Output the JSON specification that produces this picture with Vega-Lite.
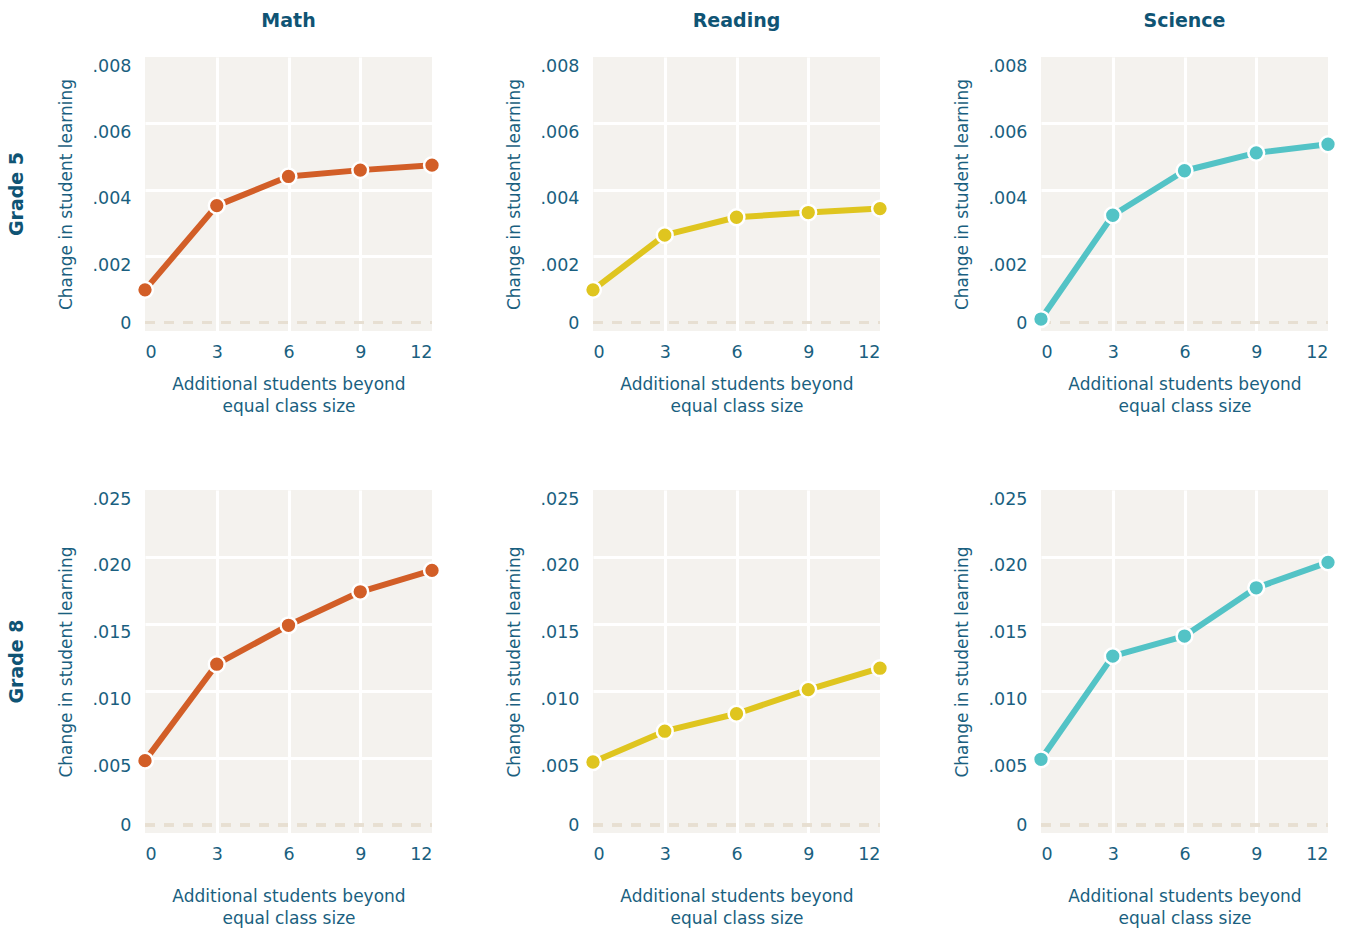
{
  "$schema": "https://vega.github.io/schema/vega-lite/v6.json",
  "background": "white",
  "padding": {"left": 8, "top": 12, "right": 5, "bottom": 5},
  "datasets": {
    "learning": [
      {"grade": "Grade 5", "subject": "Math", "students": 0, "change": 0.00098},
      {"grade": "Grade 5", "subject": "Math", "students": 3, "change": 0.00352},
      {"grade": "Grade 5", "subject": "Math", "students": 6, "change": 0.0044},
      {"grade": "Grade 5", "subject": "Math", "students": 9, "change": 0.00459},
      {"grade": "Grade 5", "subject": "Math", "students": 12, "change": 0.00474},
      {"grade": "Grade 5", "subject": "Reading", "students": 0, "change": 0.00098},
      {"grade": "Grade 5", "subject": "Reading", "students": 3, "change": 0.00263},
      {"grade": "Grade 5", "subject": "Reading", "students": 6, "change": 0.00317},
      {"grade": "Grade 5", "subject": "Reading", "students": 9, "change": 0.00331},
      {"grade": "Grade 5", "subject": "Reading", "students": 12, "change": 0.00343},
      {"grade": "Grade 5", "subject": "Science", "students": 0, "change": 0.0001},
      {"grade": "Grade 5", "subject": "Science", "students": 3, "change": 0.00323},
      {"grade": "Grade 5", "subject": "Science", "students": 6, "change": 0.00457},
      {"grade": "Grade 5", "subject": "Science", "students": 9, "change": 0.00511},
      {"grade": "Grade 5", "subject": "Science", "students": 12, "change": 0.00537},
      {"grade": "Grade 8", "subject": "Math", "students": 0, "change": 0.0048},
      {"grade": "Grade 8", "subject": "Math", "students": 3, "change": 0.012},
      {"grade": "Grade 8", "subject": "Math", "students": 6, "change": 0.0149},
      {"grade": "Grade 8", "subject": "Math", "students": 9, "change": 0.0174},
      {"grade": "Grade 8", "subject": "Math", "students": 12, "change": 0.019},
      {"grade": "Grade 8", "subject": "Reading", "students": 0, "change": 0.0047},
      {"grade": "Grade 8", "subject": "Reading", "students": 3, "change": 0.007},
      {"grade": "Grade 8", "subject": "Reading", "students": 6, "change": 0.0083},
      {"grade": "Grade 8", "subject": "Reading", "students": 9, "change": 0.0101},
      {"grade": "Grade 8", "subject": "Reading", "students": 12, "change": 0.0117},
      {"grade": "Grade 8", "subject": "Science", "students": 0, "change": 0.0049},
      {"grade": "Grade 8", "subject": "Science", "students": 3, "change": 0.0126},
      {"grade": "Grade 8", "subject": "Science", "students": 6, "change": 0.0141},
      {"grade": "Grade 8", "subject": "Science", "students": 9, "change": 0.0177},
      {"grade": "Grade 8", "subject": "Science", "students": 12, "change": 0.0196}
    ]
  },
  "data": {"name": "learning"},
  "spacing": 75,
  "vconcat": [
    {
      "transform": [{"filter": "datum.grade === 'Grade 5'"}],
      "facet": {
        "row": {"field": "grade", "type": "nominal", "header": {"title": null, "labelAngle": -90, "labelOrient": "left", "labelPadding": 21, "labelFontSize": 19, "labelFontWeight": "bold", "labelColor": "#0f5474", "labelFont": "DejaVu Sans"}},
        "column": {"field": "subject", "type": "nominal", "sort": ["Math", "Reading", "Science"], "header": {"title": null, "labelOrient": "top", "labelPadding": 26, "labelFontSize": 19, "labelFontWeight": "bold", "labelColor": "#0f5474", "labelFont": "DejaVu Sans"}}
      },
      "spacing": {"column": 60},
      "resolve": {"axis": {"y": "independent", "x": "independent"}},
      "spec": {
        "width": 287,
        "height": 274,
        "encoding": {
          "x": {"field": "students", "type": "quantitative", "scale": {"domain": [0, 12], "nice": false, "zero": false},
            "axis": {"values": [0, 3, 6, 9, 12], "title": ["Additional students beyond", "equal class size"],
              "gridColor": {"condition": {"test": "datum.value === 0 || datum.value === 12", "value": "transparent"}, "value": "white"}}},
          "y": {"field": "change", "type": "quantitative", "scale": {"domain": [-0.00026, 0.008], "nice": false, "zero": false},
            "axis": {"values": [0, 0.002, 0.004, 0.006, 0.008], "title": "Change in student learning",
              "labelExpr": "datum.value === 0 ? '0' : replace(format(datum.value, '.3f'), '0.', '.')",
              "labelOffset": {"condition": {"test": "datum.value === 0", "value": 1}, "value": 9},
              "gridColor": {"condition": {"test": "datum.value === 0 || datum.value >= 0.008", "value": "transparent"}, "value": "white"}}},
          "color": {"field": "subject", "type": "nominal", "scale": {"domain": ["Math", "Reading", "Science"], "range": ["#d25e27", "#dfc51f", "#53c3c6"]}, "legend": null}
        },
        "layer": [
          {"mark": {"type": "rule", "strokeDash": [10, 9], "strokeWidth": 3, "color": "#e7dfd2"}, "encoding": {"y": {"datum": 0}, "color": {"value": "#e7dfd2"}, "x": {"value": 0}, "x2": {"value": 287}}},
          {"mark": {"type": "line", "strokeWidth": 6, "strokeCap": "round", "strokeJoin": "round"}},
          {"mark": {"type": "point", "filled": true, "size": 250, "stroke": "white", "strokeWidth": 2.5, "opacity": 1}}
        ]
      }
    },
    {
      "transform": [{"filter": "datum.grade === 'Grade 8'"}],
      "facet": {
        "row": {"field": "grade", "type": "nominal", "header": {"title": null, "labelAngle": -90, "labelOrient": "left", "labelPadding": 21, "labelFontSize": 19, "labelFontWeight": "bold", "labelColor": "#0f5474", "labelFont": "DejaVu Sans"}},
        "column": {"field": "subject", "type": "nominal", "sort": ["Math", "Reading", "Science"], "header": {"title": null, "labels": false}}
      },
      "spacing": {"column": 60},
      "resolve": {"axis": {"y": "independent", "x": "independent"}},
      "spec": {
        "width": 287,
        "height": 343,
        "encoding": {
          "x": {"field": "students", "type": "quantitative", "scale": {"domain": [0, 12], "nice": false, "zero": false},
            "axis": {"values": [0, 3, 6, 9, 12], "title": ["Additional students beyond", "equal class size"], "titlePadding": 26,
              "gridColor": {"condition": {"test": "datum.value === 0 || datum.value === 12", "value": "transparent"}, "value": "white"}}},
          "y": {"field": "change", "type": "quantitative", "scale": {"domain": [-0.0006, 0.025], "nice": false, "zero": false},
            "axis": {"values": [0, 0.005, 0.01, 0.015, 0.02, 0.025], "title": "Change in student learning",
              "labelExpr": "datum.value === 0 ? '0' : replace(format(datum.value, '.3f'), '0.', '.')",
              "labelOffset": {"condition": {"test": "datum.value === 0", "value": 1}, "value": 9},
              "gridColor": {"condition": {"test": "datum.value === 0 || datum.value >= 0.025", "value": "transparent"}, "value": "white"}}},
          "color": {"field": "subject", "type": "nominal", "scale": {"domain": ["Math", "Reading", "Science"], "range": ["#d25e27", "#dfc51f", "#53c3c6"]}, "legend": null}
        },
        "layer": [
          {"mark": {"type": "rule", "strokeDash": [10, 9], "strokeWidth": 3, "color": "#e7dfd2"}, "encoding": {"y": {"datum": 0}, "color": {"value": "#e7dfd2"}, "x": {"value": 0}, "x2": {"value": 287}}},
          {"mark": {"type": "line", "strokeWidth": 6, "strokeCap": "round", "strokeJoin": "round"}},
          {"mark": {"type": "point", "filled": true, "size": 250, "stroke": "white", "strokeWidth": 2.5, "opacity": 1}}
        ]
      }
    }
  ],
  "config": {
    "view": {"fill": "#f4f2ee", "stroke": null},
    "font": "DejaVu Sans",
    "axis": {
      "domain": false,
      "ticks": false,
      "gridWidth": 3,
      "labelFont": "DejaVu Sans",
      "labelFontSize": 17.5,
      "labelColor": "#1a5f80",
      "titleFont": "DejaVu Sans",
      "titleFontSize": 17,
      "titleFontWeight": "normal",
      "titleColor": "#1a5f80"
    },
    "axisX": {"labelPadding": 12, "titlePadding": 16, "titleLineHeight": 22},
    "axisY": {"labelPadding": 14, "titlePadding": 17}
  }
}
